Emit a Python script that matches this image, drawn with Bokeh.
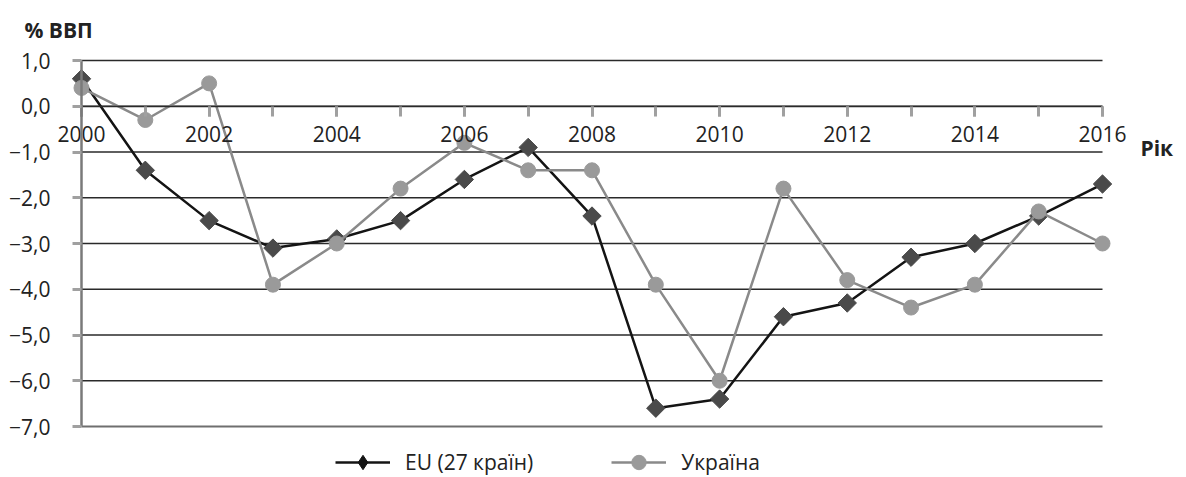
from bokeh.plotting import figure
from bokeh.models import Range1d, LinearAxis, FixedTicker, Legend, LegendItem, Label
from bokeh.embed import file_html
from bokeh.resources import INLINE

# ---------------- data ----------------
years = list(range(2000, 2017))
eu_values = [0.6, -1.4, -2.5, -3.1, -2.9, -2.5, -1.6, -0.9, -2.4, -6.6, -6.4, -4.6, -4.3, -3.3, -3.0, -2.4, -1.7]
ua_values = [0.4, -0.3, 0.5, -3.9, -3.0, -1.8, -0.8, -1.4, -1.4, -3.9, -6.0, -1.8, -3.8, -4.4, -3.9, -2.3, -3.0]
x_label_years = [2000, 2002, 2004, 2006, 2008, 2010, 2012, 2014, 2016]
y_ticks = [-7, -6, -5, -4, -3, -2, -1, 0, 1]
y_tick_labels = ["−7,0", "−6,0", "−5,0", "−4,0", "−3,0", "−2,0", "−1,0", "0,0", "1,0"]
series_names = ["EU (27 країн)", "Україна"]
y_title = "% ВВП"
x_title = "Рік"

# ---------------- layout ----------------
W, H = 1186, 477
px_x0, px_x1 = 81, 1102      # px of first / last year
px_ytop, px_ybot = 60, 426   # px of y = 1 / y = -7
sx = (px_x1 - px_x0) / (years[-1] - years[0])
sy = (px_ybot - px_ytop) / (y_ticks[-1] - y_ticks[0])
x_start = years[0] - px_x0 / sx
x_end = years[-1] + (W - px_x1) / sx
y_end = y_ticks[-1] + px_ytop / sy
y_start = y_ticks[0] - (H - px_ybot) / sy

FONT = "Open Sans"

p = figure(width=W, height=H, x_range=Range1d(x_start, x_end), y_range=Range1d(y_start, y_end),
           output_backend="svg", toolbar_location=None, x_axis_location=None, y_axis_location=None,
           min_border=0, outline_line_color=None,
           background_fill_color="white", border_fill_color="white")
p.grid.visible = False

# horizontal grid lines (from tick values)
grid_colors = ["#6f6f6f"] + ["#2a2a2a"] * (len(y_ticks) - 1)
grid_widths = [2.2] + [1.3] * (len(y_ticks) - 1)
p.segment(x0=[years[0]] * len(y_ticks), x1=[years[-1]] * len(y_ticks), y0=y_ticks, y1=y_ticks,
          line_color=grid_colors, line_width=grid_widths)

# x axis crossing at 0
xaxis = LinearAxis(fixed_location=0, bounds=(years[0], years[-1]),
                   ticker=FixedTicker(ticks=x_label_years, minor_ticks=years))
xaxis.axis_line_color = "#2a2a2a"
xaxis.axis_line_width = 1.3
xaxis.major_tick_in = 0
xaxis.major_tick_out = 10
xaxis.minor_tick_in = 0
xaxis.minor_tick_out = 10
xaxis.major_tick_line_color = "#a0a0a0"
xaxis.minor_tick_line_color = "#a0a0a0"
xaxis.major_tick_line_width = 3
xaxis.minor_tick_line_width = 3
xaxis.major_label_text_font = FONT
xaxis.major_label_text_font_size = "21px"
xaxis.major_label_text_color = "#222222"
xaxis.major_label_standoff = 10
p.add_layout(xaxis, "below")

# y axis at the first year
yaxis = LinearAxis(fixed_location=years[0], bounds=(y_ticks[0], y_ticks[-1]),
                   ticker=FixedTicker(ticks=y_ticks, minor_ticks=[]),
                   major_label_overrides={t: l for t, l in zip(y_ticks, y_tick_labels)})
yaxis.axis_line_color = "#7a7a7a"
yaxis.axis_line_width = 2.5
yaxis.major_tick_in = 0
yaxis.major_tick_out = 9
yaxis.major_tick_line_color = "#a0a0a0"
yaxis.major_tick_line_width = 3
yaxis.major_label_text_font = FONT
yaxis.major_label_text_font_size = "21px"
yaxis.major_label_text_color = "#222222"
yaxis.major_label_standoff = 22
p.add_layout(yaxis, "left")

# series
eu_line = p.line(years, eu_values, line_color="#141414", line_width=2.5)
eu_pts = p.scatter(years, eu_values, marker="square", angle=0.7854, size=13,
                   fill_color="#4a4a4a", line_color="#4a4a4a")
ua_line = p.line(years, ua_values, line_color="#8a8a8a", line_width=2.5)
ua_pts = p.scatter(years, ua_values, marker="circle", size=15,
                   fill_color="#9a9a9a", line_color="#9a9a9a")

# diamond swatch for the legend only (zero size on the plot itself)
eu_key = p.scatter(years, eu_values, marker="diamond", size=0, fill_color="#141414", line_color="#141414")

legend = Legend(items=[LegendItem(label=series_names[0], renderers=[eu_line, eu_key]),
                       LegendItem(label=series_names[1], renderers=[ua_line, ua_pts])],
                orientation="horizontal", location=(335, -3),
                padding=0, margin=0, spacing=78, label_standoff=15,
                glyph_width=55, glyph_height=36, label_height=36,
                label_text_font=FONT, label_text_font_size="21px", label_text_color="#222222",
                border_line_color=None, background_fill_alpha=0)
p.add_layout(legend, "center")

# axis titles
p.add_layout(Label(x=x_start + 24 / sx, y=y_end - 29.5 / sy, text=y_title, text_font=FONT,
                   text_font_size="21px", text_font_style="bold", text_color="#222222",
                   text_baseline="alphabetic"))
p.add_layout(Label(x=x_start + 1140 / sx, y=y_end - 147 / sy, text=x_title, text_font=FONT,
                   text_font_size="21px", text_font_style="bold", text_color="#222222",
                   text_baseline="alphabetic"))

open("out.html", "w").write(file_html(p, INLINE))
